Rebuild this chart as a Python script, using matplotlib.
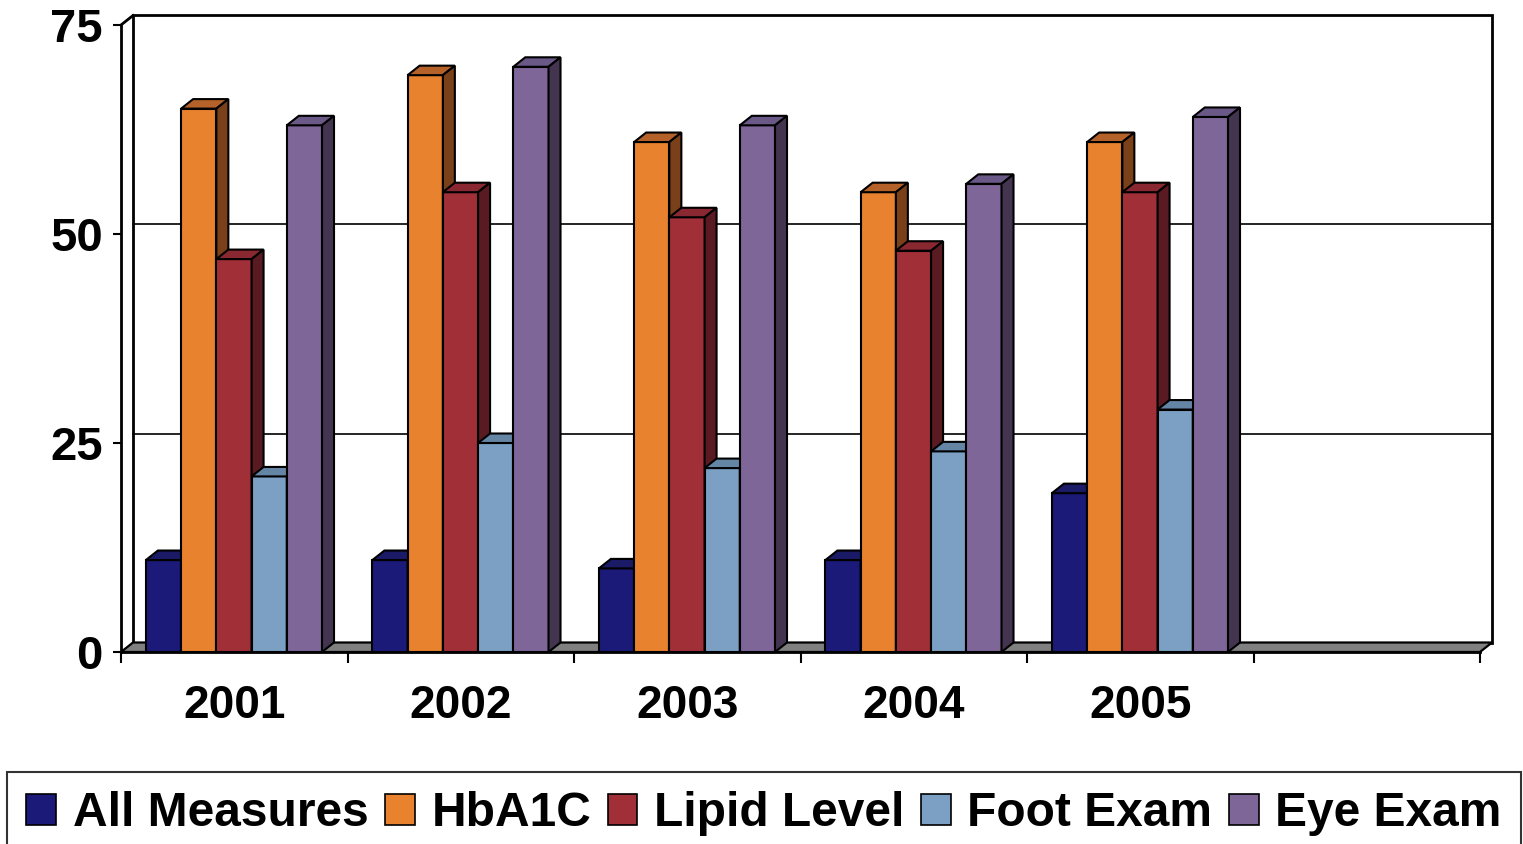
import numpy as np
import matplotlib
matplotlib.use("Agg")
import matplotlib.pyplot as plt
from matplotlib.patches import Polygon, Patch

# data
years = ["2001", "2002", "2003", "2004", "2005"]
n_slots = 6  # the chart has one empty category at the right
series = ["All Measures", "HbA1C", "Lipid Level", "Foot Exam", "Eye Exam"]
all_measures = [11, 11, 10, 11, 19]
hba1c = [65, 69, 61, 55, 61]
lipid = [47, 55, 52, 48, 55]
foot = [21, 25, 22, 24, 29]
eye = [63, 70, 63, 56, 64]
values = [all_measures, hba1c, lipid, foot, eye]

# front / top / side face colours for each series
front_cols = ["#1B1A78", "#E9822F", "#A02F38", "#7BA0C3", "#7E6698"]
top_cols = ["#1A1A66", "#B5622A", "#8A2832", "#6585A5", "#6A5886"]
side_cols = ["#10103E", "#7A4019", "#5A1A22", "#43607E", "#433550"]

plt.rcParams['font.family'] = ['Liberation Sans', 'DejaVu Sans']
plt.rcParams['font.weight'] = 'bold'

fig = plt.figure(figsize=(15.23, 8.44), dpi=100)
ax = fig.add_axes([121/1523, 1-652/844, 1359/1523, 627/844])
ax.set_xlim(0, n_slots)
ax.set_ylim(0, 75)

# depth of the 3d look, in data units
DX = 12/1359*n_slots
DY = 9.5/627*75
bar_w = 0.1555
off = 0.11
lw = 1.5

for s in ["top", "right", "bottom"]:
    ax.spines[s].set_visible(False)
ax.spines["left"].set_linewidth(2)

# back wall
ax.add_patch(Polygon([(DX, DY), (n_slots+DX, DY), (n_slots+DX, 75+DY), (DX, 75+DY)],
                     closed=True, facecolor="white", edgecolor="black", lw=2,
                     clip_on=False, zorder=0))
for g in [25, 50]:
    ax.plot([DX, n_slots+DX], [g+DY, g+DY], color="black", lw=1.2,
            clip_on=False, zorder=0.5)
# side connection from front axis to back wall
ax.plot([0, DX], [75, 75+DY], color="black", lw=2, clip_on=False, zorder=0.5)
# floor
ax.add_patch(Polygon([(0, 0), (n_slots, 0), (n_slots+DX, DY), (DX, DY)],
                     closed=True, facecolor="#808080", edgecolor="black", lw=1.6,
                     clip_on=False, zorder=1))

# bars
for i in range(len(years)):
    for j in range(len(series)):
        h = values[j][i]
        x0 = i + off + j*bar_w
        x1 = x0 + bar_w
        z = 2 + i*0.01 + j*0.001
        ax.add_patch(Polygon([(x0, 0), (x1, 0), (x1, h), (x0, h)], closed=True,
                             facecolor=front_cols[j], edgecolor="black", lw=lw,
                             clip_on=False, zorder=z))
        ax.add_patch(Polygon([(x0, h), (x1, h), (x1+DX, h+DY), (x0+DX, h+DY)],
                             closed=True, facecolor=top_cols[j], edgecolor="black",
                             lw=lw, clip_on=False, zorder=z))
        ax.add_patch(Polygon([(x1, 0), (x1+DX, DY), (x1+DX, h+DY), (x1, h)],
                             closed=True, facecolor=side_cols[j], edgecolor="black",
                             lw=lw, clip_on=False, zorder=z))

ax.plot([0, n_slots], [0, 0], color="black", lw=2, clip_on=False, zorder=3)

ax.set_yticks([0, 25, 50, 75])
ax.tick_params(axis="y", length=6, width=1.5, pad=7, labelsize=34)
ax.set_xticks(np.arange(n_slots+1))
ax.set_xticklabels([])
ax.set_xticks(np.arange(len(years))+0.5, minor=True)
ax.set_xticklabels(years, minor=True)
ax.tick_params(axis="x", which="major", length=8, width=1.5)
ax.tick_params(axis="x", which="minor", length=0, pad=23, labelsize=33)
for t in ax.get_yticklabels() + ax.get_xticklabels(minor=True):
    t.set_fontweight("bold")

handles = [Patch(facecolor=front_cols[j], edgecolor="black", lw=1.2, label=series[j])
           for j in range(len(series))]
leg = fig.legend(handles=handles, loc="upper left", ncol=5, mode="expand",
                 bbox_to_anchor=(7/1523, 0, 1514/1523, 1-772/844),
                 borderaxespad=0, fancybox=False, frameon=True,
                 prop={"size": 34.5, "weight": "bold"},
                 handlelength=0.62, handleheight=0.62, handletextpad=0.35,
                 borderpad=0.4)
leg.get_frame().set_edgecolor("black")
leg.get_frame().set_linewidth(1.5)

fig.savefig("out.png", dpi=100)
